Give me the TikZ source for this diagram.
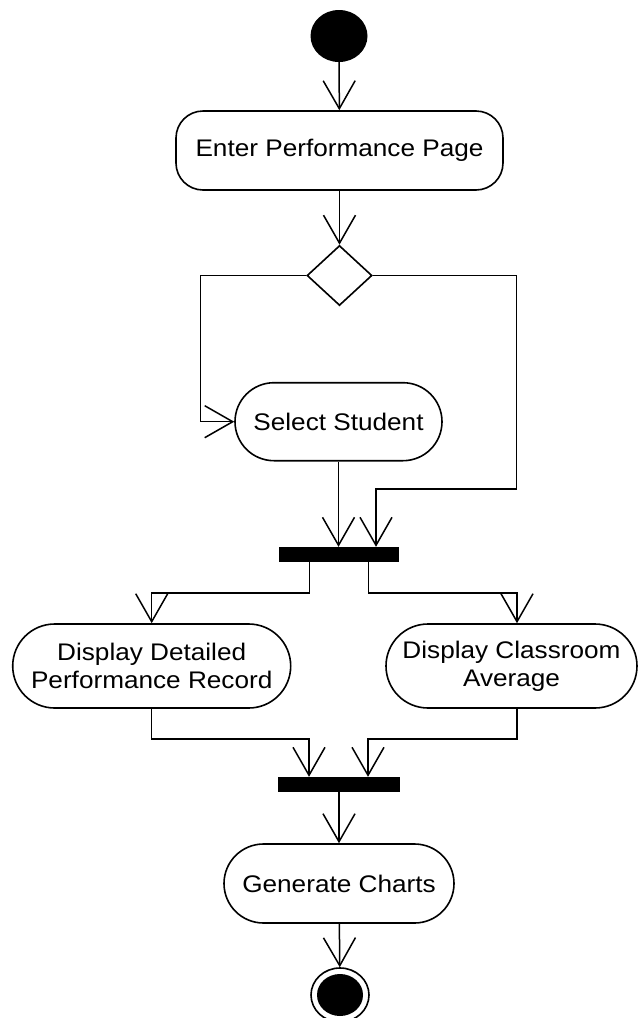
\documentclass[tikz,border=0pt]{standalone}
\usepackage{fontspec}
\setmainfont{Liberation Sans}[FakeStretch=1.09]
\definecolor{Ink}{RGB}{0, 0, 0}
\usepackage{tikz}
\usetikzlibrary{arrows.meta, positioning, shapes.geometric, shapes.misc}

\begin{document}
\begin{tikzpicture}[x=1pt, y=-1pt,
    act/.style={draw=Ink, line width=1.6pt, fill=white, rounded rectangle, inner sep=0pt, align=center,
        font=\fontsize{24}{28}\selectfont},
    bar/.style={fill=Ink, draw=none, rectangle, inner sep=0pt, minimum height=15pt},
    flow/.style={draw=Ink, line width=1.5pt, -{Straight Barb[length=28pt, width=32pt, line width=1.5pt]}}]
    \useasboundingbox (0,0) rectangle (638,1018);

    % Start and first activity
    \node[ellipse, fill=Ink, inner sep=0pt, minimum width=57pt, minimum height=52pt] (start) at (339,36) {};
    \node[draw=Ink, line width=1.6pt, rectangle, rounded corners=27pt, inner sep=0pt, minimum width=327pt,
        minimum height=79pt, font=\fontsize{24}{28}\selectfont] (enter) at (339.5,150.5) {Enter Performance Page};
    \draw[flow] (start) -- (enter);

    % Decision
    \node[diamond, draw=Ink, line width=1.6pt, inner sep=0pt, minimum width=65pt, minimum height=60pt] (choice) at (339.5,275.5) {};
    \draw[flow] (enter) -- (choice);
    \node[act, minimum width=207pt, minimum height=78pt] (select) at (338.5,421.7) {Select Student};
    \coordinate (left) at (200.7,275.5);
    \coordinate (right) at (516.7,489);
    \draw[flow] (choice.west) -- (left) |- (select.west);

    % Fork
    \node[bar, minimum width=120pt] (fork) at (339,554.5) {};
    \draw[flow] (select.south) -- (select.south |- fork.north);
    \draw[flow] (choice.east) -| (right) -| ([xshift=37pt]fork.north);

    % Parallel activities
    \node[act, minimum width=278pt, minimum height=84pt] (detail) at (151.7,666) {Display Detailed\\Performance Record};
    \node[act, minimum width=251pt, minimum height=84pt] (average) at (511.5,666) {Display Classroom\\Average};
    \coordinate (splitL) at (151.7,593);
    \coordinate (splitR) at (517,593);
    \draw[flow] ([xshift=-29.5pt]fork.south) |- (splitL) -- (detail.north);
    \draw[flow] ([xshift=29.5pt]fork.south) |- (splitR) -- (splitR |- average.north);

    % Join
    \node[bar, minimum width=122pt] (join) at (339,784.5) {};
    \coordinate (joinL) at (151.7,739);
    \coordinate (joinR) at (517,739);
    \draw[flow] (detail.south) -- (joinL) -| ([xshift=-30pt]join.north);
    \draw[flow] (splitR |- average.south) -- (joinR) -| ([xshift=29pt]join.north);

    % Charts and end
    \node[act, minimum width=230pt, minimum height=79pt] (charts) at (339,883.5) {Generate Charts};
    \draw[flow] (join) -- (charts);
    \node[ellipse, draw=Ink, line width=1.6pt, inner sep=0pt, minimum width=58pt, minimum height=54pt] (stop) at (340,995) {};
    \node[ellipse, fill=Ink, inner sep=0pt, minimum width=46pt, minimum height=42pt] (stopdot) at (stop.center) {};
    \draw[flow] (charts) -- (stop);
\end{tikzpicture}
\end{document}
